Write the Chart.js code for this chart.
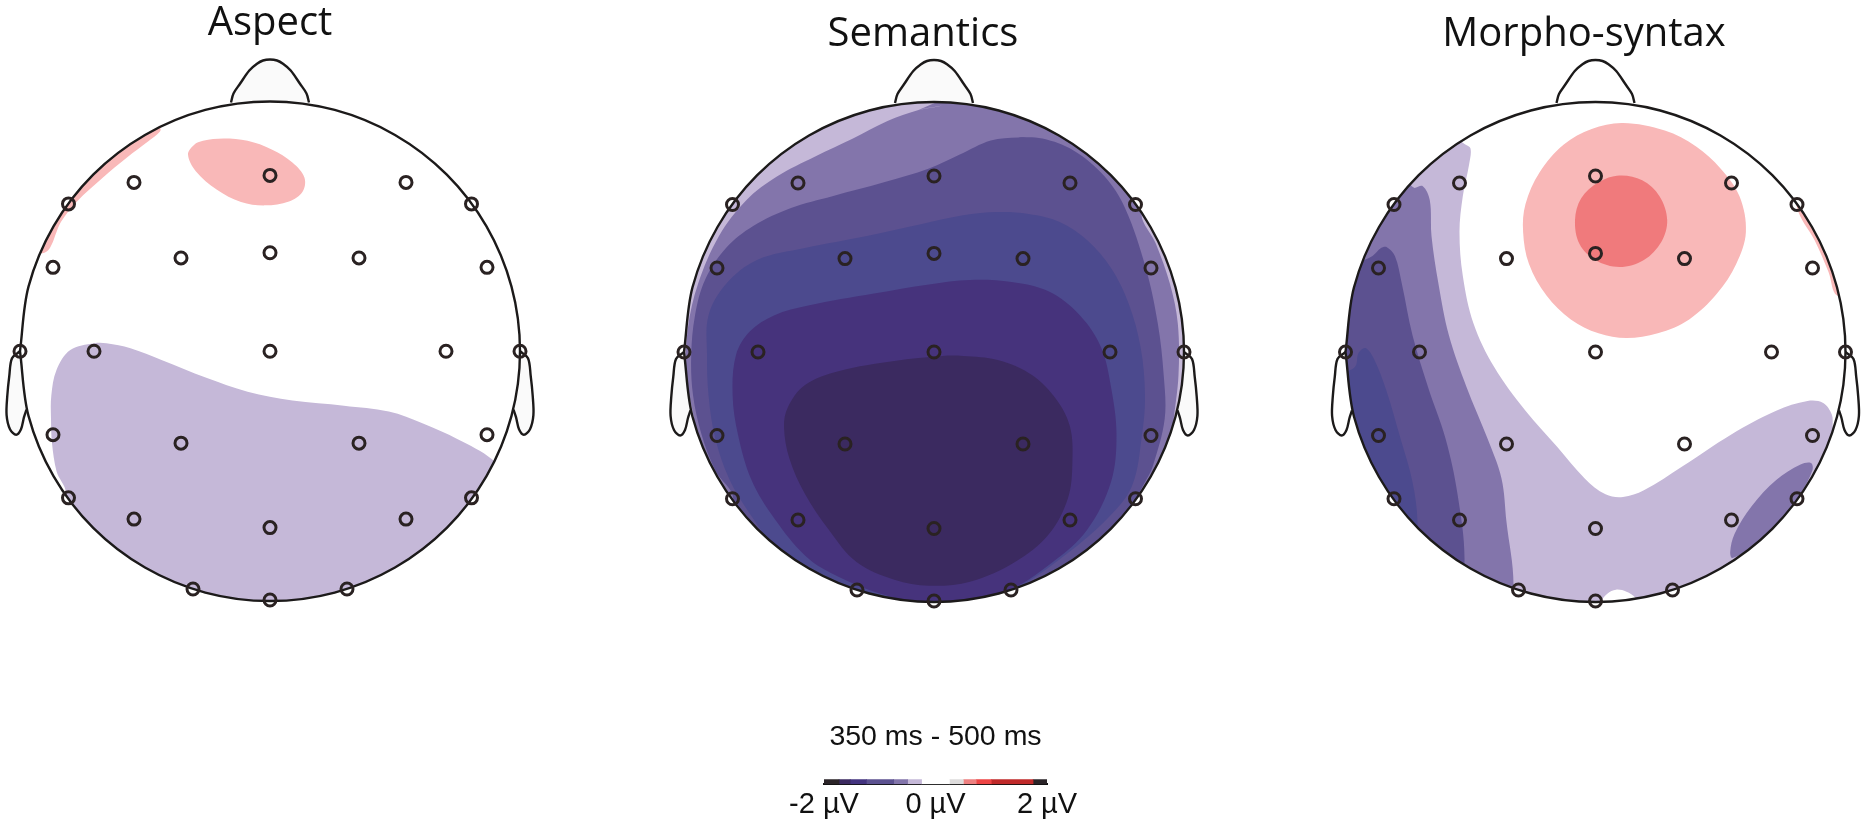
<!DOCTYPE html>
<html>
<head>
<meta charset="utf-8">
<title>350 ms - 500 ms</title>
<script src="https://cdn.jsdelivr.net/npm/chart.js@4"></script>
<style>
  html, body { margin: 0; background: #fff; overflow: hidden; }
  #page { position: relative; width: 1866px; height: 828px; overflow: hidden; }
  canvas { position: absolute; }
</style>
</head>
<body>
<div id="page"></div>
<script>
// all outlines are [x, y] in units from the head centre
const titles = ['Aspect', 'Semantics', 'Morpho-syntax'];

const electrodes = [
  [0, -176], [-136, -169], [136, -169], [-201.5, -147.5], [201.5, -147.5],
  [-217, -84], [217, -84], [-89, -93.4], [89, -93.4], [0, -98.6],
  [-250, 0], [250, 0], [-176, 0], [176, 0], [0, 0],
  [-217, 83.5], [217, 83.5], [-89, 92], [89, 92],
  [-201.5, 146.7], [201.5, 146.7], [-136, 168], [136, 168], [0, 176.5],
  [-77, 238], [77, 238], [0, 249]
];

const headOutline = [
  [-250, 0], [-241.5, -64.7], [-216.5, -125], [-176.8, -176.8], [-125, -216.5], [-64.7, -241.5],
  [0, -250], [64.7, -241.5], [125, -216.5], [176.8, -176.8], [216.5, -125], [241.5, -64.7],
  [250, 0], [241.5, 64.7], [216.5, 125], [176.8, 176.8], [125, 216.5], [64.7, 241.5],
  [0, 250], [-64.7, 241.5], [-125, 216.5], [-176.8, 176.8], [-216.5, 125], [-241.5, 64.7], [-250, 0]
];
const noseOutline = [
  [-39, -249], [-36.5, -258], [-30, -267.7], [-20.7, -281], [-13, -287.7], [-7, -291], [0, -292],
  [7, -291], [13, -287.7], [20.7, -281], [30, -267.7], [36.5, -258], [39, -249]
];
const leftEar = [
  [-250, 0], [-258, 7], [-260.7, 24.6], [-262.7, 44.5], [-263.4, 64], [-260, 78],
  [-253.8, 83.5], [-249, 78], [-246, 66], [-243.5, 58.4]
];
const rightEar = leftEar.map(([x, y]) => [-x, y]);

// Aspect
const aspectViolet = [
  [-175.6, -8], [-163.6, -8], [-139.5, -3], [-108.5, 8.7], [-63.7, 26.6], [-22.4, 40.5], [22.4, 49.3],
  [74, 54.5], [118.8, 60.4], [153, 72.3], [187.7, 88], [222, 108], [245, 135], [255, 200], [180, 265],
  [0, 285], [-180, 265], [-250, 200], [-205, 144], [-213.5, 120], [-218, 92], [-219, 68],
  [-218.7, 44.5], [-213.5, 18.7], [-199.7, -1.2]
];
const aspectPinkFront = [
  [-82, -197], [-76, -206.5], [-67, -210.6], [-46.5, -213], [-22.4, -210.6], [1.7, -202], [22.4, -189],
  [34.4, -174], [32.7, -160], [19, -150], [-5, -146], [-29, -149.4], [-53.4, -162], [-74, -180]
];
const aspectPinkEdge = [
  [-110, -224], [-110, -220], [-122, -210], [-143, -194], [-167, -174], [-193, -150], [-208.6, -130],
  [-225.5, -98.6], [-260, -115], [-225, -200], [-135, -245]
];

// Semantics, from the outermost level to the innermost
const semanticsLevel0 = [[-262, -262], [262, -262], [262, 262], [-262, 262]];
const semanticsLevel1 = [
  [15.5, -249], [-15.5, -242], [-46.5, -231], [-81, -213.4], [-118.8, -195.5], [-156.7, -175.7],
  [-187.7, -151.8], [-215, -116], [-236, -68], [-246, -24.6], [-248, 23], [-239, 82.7],
  [-255, 200], [0, 285], [230, 200], [239, 74.7], [244.5, 23], [243.8, -28.6], [236, -68],
  [222, -108], [208, -140], [240, -170], [130, -255], [30, -262]
];
const semanticsLevel2 = [
  [84.4, -214.6], [56.8, -211.5], [25.8, -197.5], [-5, -183.6], [-50, -169.7], [-101.6, -155.8],
  [-143, -144], [-180.8, -126], [-208, -104], [-229, -72], [-239, -36.6], [-242.8, 3], [-241, 43],
  [-232.4, 82.7], [-218.7, 118.4], [-201, 148], [-235, 215], [0, 285], [235, 190], [205, 150],
  [218.7, 114.5], [230.7, 66.8], [229.7, 23], [223.8, -28.6], [211.8, -84], [191, -144],
  [170.5, -175.7], [139.5, -201.5], [108.5, -213.4]
];
const semanticsLevel3 = [
  [63.7, -140], [29, -136.7], [-12, -128], [-67, -116], [-129, -104], [-177, -92], [-208, -68],
  [-225.5, -36.6], [-227, 3], [-225.5, 43], [-218.7, 86.6], [-205, 126.4], [-184, 162], [-156.7, 198],
  [-129, 217.8], [-81, 241.7], [0, 275], [77.5, 239.7], [132.6, 202], [174, 166], [198, 134],
  [208, 82.7], [211, 43], [206.6, -4.8], [194.6, -48.5], [177, -84], [153, -112], [125.7, -130], [94.7, -138]
];
const semanticsLevel4 = [
  [36, -72], [-5, -67.6], [-60, -58.4], [-125.7, -46.5], [-160, -36.6], [-184, -20.7], [-198, 3],
  [-201.4, 43], [-196, 82.7], [-182.5, 128], [-160, 166], [-129, 203.5], [-101.6, 221.8], [-53.4, 241.7],
  [0, 251.6], [70.6, 239.7], [118.8, 209.9], [153, 178], [177, 130], [182.5, 82.7], [177, 35],
  [167, -4.8], [146, -36.6], [115, -60.4], [77.5, -70]
];
const semanticsLevel5 = [
  [8.6, 4], [-39.6, 9], [-94.7, 19], [-129, 33], [-146, 55], [-150, 74.7], [-144.6, 106.5], [-129, 142],
  [-105, 178], [-77.5, 210], [-39.6, 227.7], [-5, 233.7], [36, 229.7], [81, 210], [115, 182], [134, 146],
  [138.4, 110.5], [136, 74.7], [122, 47], [98, 23], [63.7, 8], [29, 4]
];

// Morpho-syntax
const morphoViolet = [
  [-131, -208], [-125, -203.5], [-126.4, -187.6], [-132.7, -155.8], [-136, -120], [-132.7, -76.3],
  [-122, -28.6], [-101.3, 15], [-70, 58.8], [-38.6, 94.6], [-10.8, 126.4], [10, 142.3], [27.5, 145],
  [48.4, 138.3], [86.7, 114.5], [135.4, 82.7], [180.7, 58.8], [212, 49], [227.7, 51], [236.4, 62.8],
  [237.5, 76.7], [255, 150], [130, 270], [48, 262], [39.7, 245.6], [31, 239.7], [20.5, 237.7],
  [11.8, 241.7], [4, 252], [-2, 270], [-150, 270], [-262, 150], [-265, 0], [-250, -150], [-170, -235]
];
const morphoLevel1 = [
  [-172.7, -165.7], [-165.7, -151.8], [-164, -116], [-157, -68], [-146.6, -16.7], [-129, 35],
  [-108, 86.6], [-94, 126.4], [-89, 170], [-82, 233.7], [-90, 270], [-255, 180], [-265, 0],
  [-240, -100], [-200, -180], [-181, -164]
];
const morphoLevel2 = [
  [-209, -105], [-200.6, -96], [-193.6, -68], [-183, -16.7], [-167.5, 35], [-150, 86.6], [-138, 142],
  [-131, 210], [-140, 262], [-260, 150], [-265, 0], [-250, -80], [-223, -96], [-214.5, -104]
];
const morphoLevel3 = [
  [-230, -4], [-221.5, 7], [-209, 39], [-195, 86.6], [-183, 130], [-178, 170], [-180, 235],
  [-265, 150], [-265, 30], [-240.6, 15], [-237, 1]
];
const morphoRightBlob = [
  [215.5, 111], [205, 112.5], [180.7, 128], [156.3, 154], [139, 182], [134.7, 200], [137, 206],
  [160, 192], [191, 162], [205, 142], [217, 118]
];
const morphoPinkOuter = [
  [27.5, -229], [-3.8, -223], [-31.7, -207.5], [-56, -179.6], [-70, -147.9], [-72.4, -120], [-66.5, -88],
  [-49, -56.4], [-24.7, -32.6], [3, -18.7], [31, -14], [62.3, -18.7], [93.7, -32.6], [121.5, -58.4],
  [140.7, -88], [150.4, -120], [144, -155.8], [125, -183.6], [100.6, -205.5], [69.3, -221.4]
];
const morphoPinkInner = [
  [24, -176.5], [3, -169.7], [-14.3, -153.8], [-20.5, -132], [-16, -108], [-0.3, -92], [24, -85],
  [48.4, -92], [65.8, -110], [71.7, -132], [64, -155.8], [46.7, -171.7]
];
const morphoPinkEdge = [
  [201.6, -143.9], [219, -112], [233, -80], [241.6, -56.4], [265, -60], [245, -170], [205, -165]
];

// colour bar, edges in µV
const barEdges = [-2, -1.73, -1.53, -1.24, -0.75, -0.5, -0.25, 0.25, 0.5, 0.73, 1, 1.75, 2];
const barColors = ['#2b2428', '#3b2a60', '#43337f', '#5c5190', '#8375ab', '#c5b8d8', '#ffffff',
  '#dedcdc', '#ee8080', '#ee4444', '#c02a2a', '#2b2428'];
const barTicks = [-2, 0, 2];
const barTitle = '350 ms - 500 ms';

const violet = '#c5b8d8', level1 = '#8375ab', level2 = '#5c5190', level3 = '#4c4a8e', level4 = '#46337c', level5 = '#3b2a60';
const pink = '#f9b8b8', red = '#f07a7c';

const panels = [
  { left: -10, top: 3.5, xMin: -280, pad: 12.5, skin: '#fafafa', shapes: [
    [aspectViolet, violet], [aspectPinkFront, pink], [aspectPinkEdge, pink]
  ] },
  { left: 642.5, top: 15, xMin: -291, pad: 2, skin: '#fafafa', shapes: [
    [semanticsLevel0, violet], [semanticsLevel1, level1], [semanticsLevel2, level2],
    [semanticsLevel3, level3], [semanticsLevel4, level4], [semanticsLevel5, level5]
  ] },
  { left: 1304, top: 15, xMin: -291.5, pad: 2, skin: '#ffffff', shapes: [
    [morphoViolet, violet], [morphoLevel1, level1], [morphoLevel2, level2], [morphoLevel3, level3],
    [morphoRightBlob, level1], [morphoPinkEdge, pink], [morphoPinkOuter, pink], [morphoPinkInner, red]
  ] }
];

const toPoints = list => list.map(([x, y]) => ({ x, y }));
// wraps round the first points so a closed contour has no kink at its seam
const closeLoop = list => [list[list.length - 1], ...list, list[0], list[1]];
const page = document.getElementById('page');

const addCanvas = (left, top, width, height) => {
  const el = document.createElement('canvas');
  el.width = width;
  el.height = height;
  el.style.left = left + 'px';
  el.style.top = top + 'px';
  page.appendChild(el);
  return el;
};

// fills a dataset's own line path; contour levels are cut off at the head outline
const shapeFill = {
  id: 'shapeFill',
  beforeDatasetDraw(chart, args) {
    const ds = chart.data.datasets[args.index];
    if (!ds.shapeColor) return;
    const ctx = chart.ctx;
    const head = chart.getDatasetMeta(chart.data.datasets.findIndex(d => d.isHead)).dataset;
    const line = args.meta.dataset;
    head.updateControlPoints(chart.chartArea);
    line.updateControlPoints(chart.chartArea);
    ctx.save();
    if (ds.insideHead) {
      ctx.beginPath();
      head.path(ctx);
      ctx.clip();
    }
    ctx.beginPath();
    line.path(ctx);
    ctx.closePath();
    ctx.fillStyle = ds.shapeColor;
    ctx.fill();
    ctx.restore();
  }
};

const outlineSet = (list, color, extra) => ({
  data: toPoints(list),
  showLine: true,
  pointRadius: 0,
  tension: 0.33,
  borderColor: '#1c1a1a',
  borderWidth: 2.4,
  shapeColor: color,
  ...extra
});

titles.forEach((title, i) => {
  const panel = panels[i];
  const layers = [
    outlineSet(noseOutline, panel.skin),
    outlineSet(leftEar, panel.skin),
    outlineSet(rightEar, panel.skin)
  ];
  panel.shapes.forEach(([list, color]) => {
    layers.push(outlineSet(closeLoop(list), color, { borderWidth: 0, insideHead: true, tension: 0.35 }));
  });
  layers.push(outlineSet(headOutline, null, { isHead: true }));
  layers.push({
    data: toPoints(electrodes),
    pointRadius: 6,
    pointBackgroundColor: 'rgba(0,0,0,0)',
    pointBorderColor: '#2a2222',
    pointBorderWidth: 3
  });

  new Chart(addCanvas(panel.left, panel.top, 560, 635 + panel.pad), {
    type: 'scatter',
    // first dataset is painted last in Chart.js
    data: { datasets: layers.reverse() },
    plugins: [shapeFill],
    options: {
      responsive: false,
      animation: false,
      layout: { padding: 0, autoPadding: false },
      plugins: {
        legend: { display: false },
        tooltip: { enabled: false },
        title: {
          display: true,
          text: title,
          color: '#111',
          font: { family: '"Open Sans"', size: 40, weight: 'normal', lineHeight: 1 },
          padding: { top: 0, bottom: panel.pad }
        }
      },
      scales: {
        x: { type: 'linear', display: false, min: panel.xMin, max: panel.xMin + 560 },
        y: { type: 'linear', display: false, min: -295, max: 300, reverse: true }
      }
    }
  });
});

new Chart(addCanvas(770, 710, 330, 118), {
  type: 'bar',
  data: {
    labels: [''],
    datasets: barColors.map((color, i) => ({
      data: [[barEdges[i], barEdges[i + 1]]],
      backgroundColor: color,
      categoryPercentage: 1,
      barPercentage: 1,
      grouped: false
    }))
  },
  options: {
    indexAxis: 'y',
    responsive: false,
    animation: false,
    layout: { padding: { left: 54, right: 53, bottom: 3 } },
    plugins: {
      legend: { display: false },
      tooltip: { enabled: false },
      title: {
        display: true,
        text: barTitle,
        color: '#111',
        font: { family: '"Liberation Sans"', size: 28.5, weight: 'normal', lineHeight: 1.2 },
        padding: { top: 10, bottom: 25 }
      }
    },
    scales: {
      x: {
        min: -2,
        max: 2,
        afterBuildTicks: axis => { axis.ticks = barTicks.map(value => ({ value })); },
        grid: { display: false, drawTicks: false },
        border: { display: true, color: '#111', width: 2 },
        ticks: {
          color: '#111',
          padding: 3,
          maxRotation: 0,
          autoSkip: false,
          font: { family: '"Liberation Sans"', size: 29 },
          callback: value => value + ' µV'
        }
      },
      y: { display: false }
    }
  }
});
</script>
</body>
</html>
